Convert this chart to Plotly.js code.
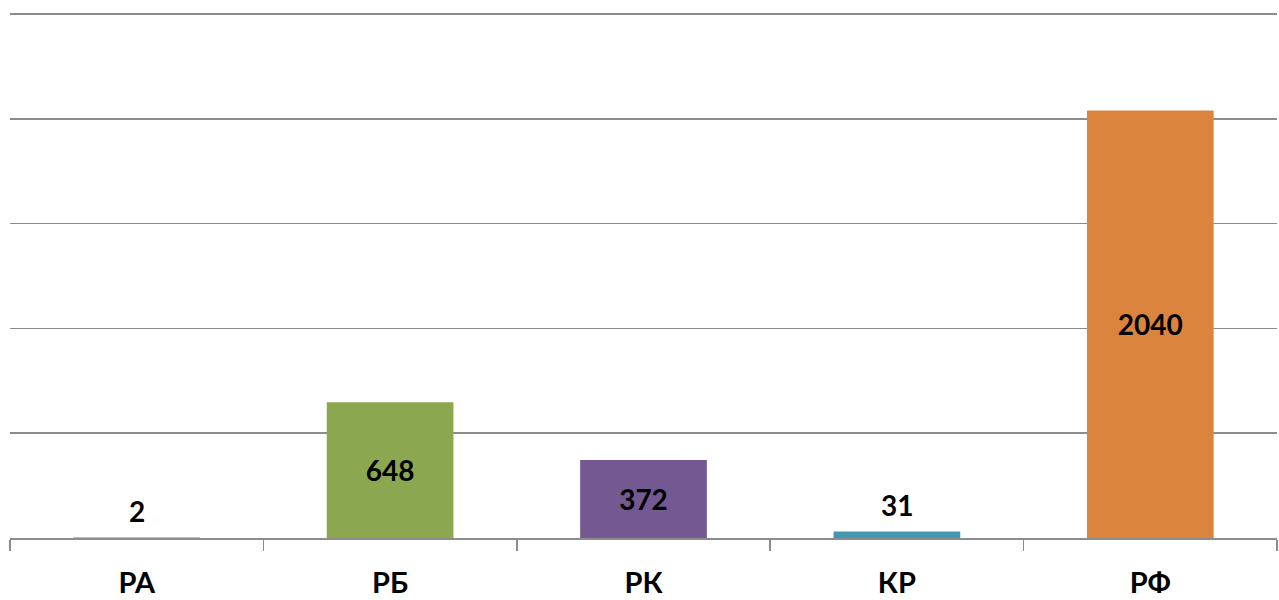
<!DOCTYPE html>
<html><head><meta charset="utf-8">
<script src="https://cdn.plot.ly/plotly-3.0.1.min.js"></script>
<style>html,body{margin:0;padding:0;background:#fff}#c{width:1279px;height:600px}</style>
</head><body><div id="c"></div>
<script>
const categories = ["РА", "РБ", "РК", "КР", "РФ"];
const values = [2, 648, 372, 31, 2040];
const colors = ["#4F81BD", "#8BA74F", "#735891", "#4298AF", "#DB843D"];
const labelInside = [false, true, true, false, true];

const font = "Lato, 'Open Sans', sans-serif";
const labelFont = {family: font, size: 28, color: "#000", weight: "bold"};

const annotations = [];
categories.forEach((c, i) => {
  if (!labelInside[i]) {
    annotations.push({
      x: c, y: values[i], xref: "x", yref: "y",
      text: String(values[i]), showarrow: false,
      yanchor: "bottom", yshift: 8, font: labelFont
    });
  }
});

Plotly.newPlot("c", [{
  type: "bar",
  x: categories,
  y: values,
  marker: {color: colors},
  text: values.map((v, i) => labelInside[i] ? String(v) : ""),
  textposition: "inside",
  insidetextanchor: "middle",
  textangle: 0,
  constraintext: "none",
  textfont: labelFont,
  hoverinfo: "none"
}], {
  width: 1279, height: 600,
  margin: {l: 10, r: 2, t: 13, b: 62},
  paper_bgcolor: "#fff", plot_bgcolor: "#fff",
  bargap: 0.5,
  showlegend: false,
  annotations: annotations,
  xaxis: {
    type: "category",
    tickson: "boundaries",
    ticks: "outside", ticklen: 11, tickwidth: 1.5, tickcolor: "#8C8C8C",
    showline: true, linecolor: "#8C8C8C", linewidth: 1.5,
    showgrid: false, zeroline: false,
    tickfont: {family: font, size: 29, color: "#000", weight: "bold"},
    ticklabelstandoff: 19
  },
  yaxis: {
    range: [0, 2505], dtick: 500, tick0: 0,
    showgrid: true, gridcolor: "#8C8C8C", gridwidth: 1.5,
    showticklabels: false, zeroline: false, showline: false, ticks: ""
  }
}, {displayModeBar: false, staticPlot: true});
</script></body></html>
